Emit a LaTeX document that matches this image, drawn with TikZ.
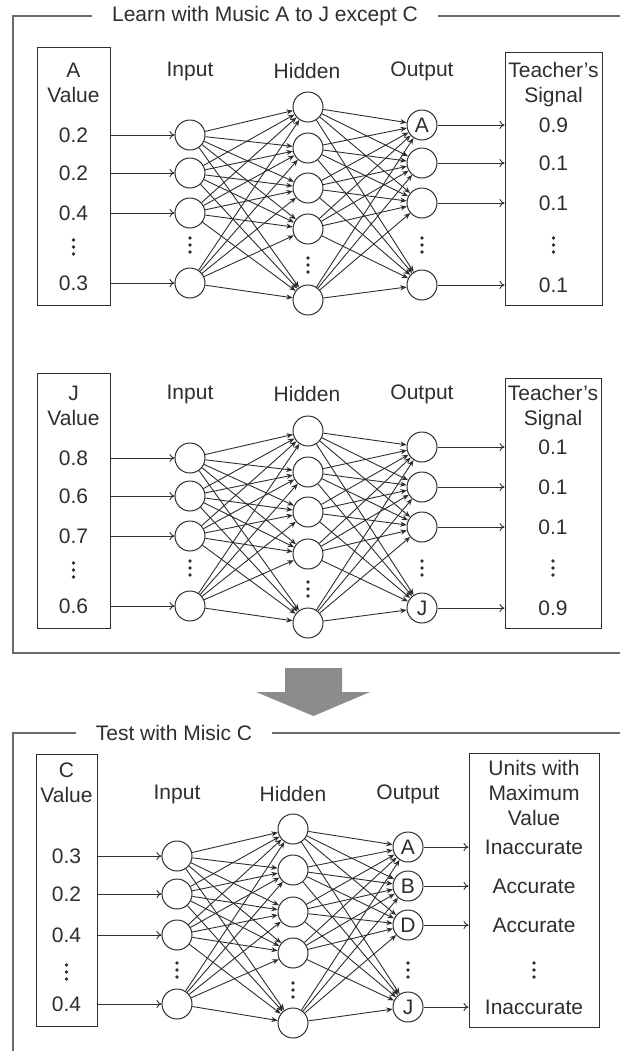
\documentclass[tikz,border=0pt]{standalone}
\usepackage{fontspec}
\setmainfont{Liberation Sans}
\usetikzlibrary{arrows.meta,fit}

\definecolor{inkgray}{HTML}{2E2E2E}
\definecolor{framegray}{HTML}{6A6A6A}
\definecolor{arrowgray}{HTML}{8C8C8C}

\tikzset{
  unit/.style={circle,draw=inkgray,line width=.5pt,minimum size=15pt,inner sep=0pt,
    text=inkgray,font=\fontsize{10.5pt}{12.5pt}\selectfont},
  lbl/.style={text=inkgray,font=\fontsize{10.5pt}{12.5pt}\selectfont,inner sep=0pt,align=center},
  valbox/.style={draw=inkgray,line width=.5pt,inner sep=0pt},
  feed/.style={draw=inkgray,line width=.45pt,-{To[length=2.5pt,width=4pt]}},
  link/.style={draw=inkgray,line width=.45pt,-{Stealth[length=3.2pt,width=2.6pt]}},
  groupframe/.style={draw=framegray,line width=.6pt},
  vdots/.pic={\foreach \k in {-1,0,1} \fill[inkgray] (0,\k*7) circle (1.9);}
}

\begin{document}
\begin{tikzpicture}[x=0.5pt,y=-0.5pt]
  \useasboundingbox (0,0) rectangle (620,1051);

  % training with music A
  \draw[groupframe] (620,16) -- (13,16) -- (13,653) -- (620,653);
  \node[lbl,fill=white,inner xsep=10pt,inner ysep=2pt] (a-title) at (265,16) {Learn with Music A to J except C};

  \node[valbox,fit={(37,47) (110,305)}] (a-box) {};
  \node[lbl] (a-head) at (73.5,82.5) {A\\Value};
  \node[valbox,fit={(505,52) (602,305)}] (a-tbox) {};
  \node[lbl] (a-thead) at (553.5,84.5) {Teacher’s\\Signal};

  \node[lbl] (a-inlbl) at (190,71) {Input};
  \node[lbl] (a-hidlbl) at (307,71) {Hidden};
  \node[lbl] (a-outlbl) at (422,71) {Output};

  \foreach \y [count=\i] in {135,173,213,283}
    \node[unit] (a-in\i) at (190,\y) {};
  \foreach \y [count=\i] in {107,148,188,229,300}
    \node[unit] (a-hid\i) at (308,\y) {};
  \foreach \y/\t [count=\i] in {125/A,163/,203/,285/}
    \node[unit] (a-out\i) at (422,\y) {\t};

  \foreach \v [count=\i] in {0.2,0.2,0.4,0.3} {
    \node[lbl] (a-v\i) at (a-box |- a-in\i) {\v};
    \draw[feed] (a-box.east |- a-in\i) -- (a-in\i);
  }
  \foreach \v [count=\i] in {0.9,0.1,0.1,0.1} {
    \node[lbl] (a-t\i) at (a-tbox |- a-out\i) {\v};
    \draw[feed] (a-out\i) -- (a-tbox.west |- a-out\i);
  }
  \foreach \i in {1,...,4} \foreach \j in {1,...,5} \draw[link] (a-in\i) -- (a-hid\j);
  \foreach \i in {1,...,5} \foreach \j in {1,...,4} \draw[link] (a-hid\i) -- (a-out\j);
  \path (73.5,247) pic {vdots} (190,245) pic {vdots} (308,265) pic {vdots}
        (422,245) pic {vdots} (553.5,245) pic {vdots};

  % training with music J
  \node[valbox,fit={(37,373) (110,628)}] (j-box) {};
  \node[lbl] (j-head) at (73.5,405.5) {J\\Value};
  \node[valbox,fit={(505,378) (601,628)}] (j-tbox) {};
  \node[lbl] (j-thead) at (553,407.5) {Teacher’s\\Signal};

  \node[lbl] (j-inlbl) at (190,394) {Input};
  \node[lbl] (j-hidlbl) at (307,394) {Hidden};
  \node[lbl] (j-outlbl) at (422,394) {Output};

  \foreach \y [count=\i] in {458,496,536,606}
    \node[unit] (j-in\i) at (190,\y) {};
  \foreach \y [count=\i] in {431,472,512,554,623}
    \node[unit] (j-hid\i) at (308,\y) {};
  \foreach \y/\t [count=\i] in {447/,487/,527/,608/J}
    \node[unit] (j-out\i) at (422,\y) {\t};

  \foreach \v [count=\i] in {0.8,0.6,0.7,0.6} {
    \node[lbl] (j-v\i) at (j-box |- j-in\i) {\v};
    \draw[feed] (j-box.east |- j-in\i) -- (j-in\i);
  }
  \foreach \v [count=\i] in {0.1,0.1,0.1,0.9} {
    \node[lbl] (j-t\i) at (j-tbox |- j-out\i) {\v};
    \draw[feed] (j-out\i) -- (j-tbox.west |- j-out\i);
  }
  \foreach \i in {1,...,4} \foreach \j in {1,...,5} \draw[link] (j-in\i) -- (j-hid\j);
  \foreach \i in {1,...,5} \foreach \j in {1,...,4} \draw[link] (j-hid\i) -- (j-out\j);
  \path (73.5,570) pic {vdots} (190,568) pic {vdots} (308,589) pic {vdots}
        (422,568) pic {vdots} (553,568) pic {vdots};

  % block arrow between the two stages
  \fill[arrowgray] (285,668) -- (342,668) -- (342,692) -- (370,692)
    -- (313.5,716) -- (256,692) -- (285,692) -- cycle;

  % testing with music C
  \draw[groupframe] (620,733) -- (13,733) -- (13,1051);
  \node[lbl,fill=white,inner xsep=10pt,inner ysep=2pt] (c-title) at (174,733) {Test with Misic C};

  \node[valbox,fit={(36,754) (97,1026)}] (c-box) {};
  \node[lbl] (c-head) at (66.5,782.5) {C\\Value};
  \node[valbox,fit={(469,753) (599,1027)}] (c-rbox) {};
  \node[lbl] (c-rhead) at (534,793) {Units with\\Maximum\\Value};

  \node[lbl] (c-inlbl) at (177,794) {Input};
  \node[lbl] (c-hidlbl) at (293,794) {Hidden};
  \node[lbl] (c-outlbl) at (408,794) {Output};

  \foreach \y [count=\i] in {856,894,935,1004}
    \node[unit] (c-in\i) at (177,\y) {};
  \foreach \y [count=\i] in {829,870,912,953,1023}
    \node[unit] (c-hid\i) at (293,\y) {};
  \foreach \y/\t [count=\i] in {847/A,886/B,925/D,1007/J}
    \node[unit] (c-out\i) at (408,\y) {\t};

  \foreach \v [count=\i] in {0.3,0.2,0.4,0.4} {
    \node[lbl] (c-v\i) at (c-box |- c-in\i) {\v};
    \draw[feed] (c-box.east |- c-in\i) -- (c-in\i);
  }
  \foreach \v [count=\i] in {Inaccurate,Accurate,Accurate,Inaccurate} {
    \node[lbl] (c-r\i) at (c-rbox |- c-out\i) {\v};
    \draw[feed] (c-out\i) -- (c-rbox.west |- c-out\i);
  }
  \foreach \i in {1,...,4} \foreach \j in {1,...,5} \draw[link] (c-in\i) -- (c-hid\j);
  \foreach \i in {1,...,5} \foreach \j in {1,...,4} \draw[link] (c-hid\i) -- (c-out\j);
  \path (66.5,972) pic {vdots} (177,970) pic {vdots} (293,990) pic {vdots}
        (408,970) pic {vdots} (534,970) pic {vdots};
\end{tikzpicture}
\end{document}
